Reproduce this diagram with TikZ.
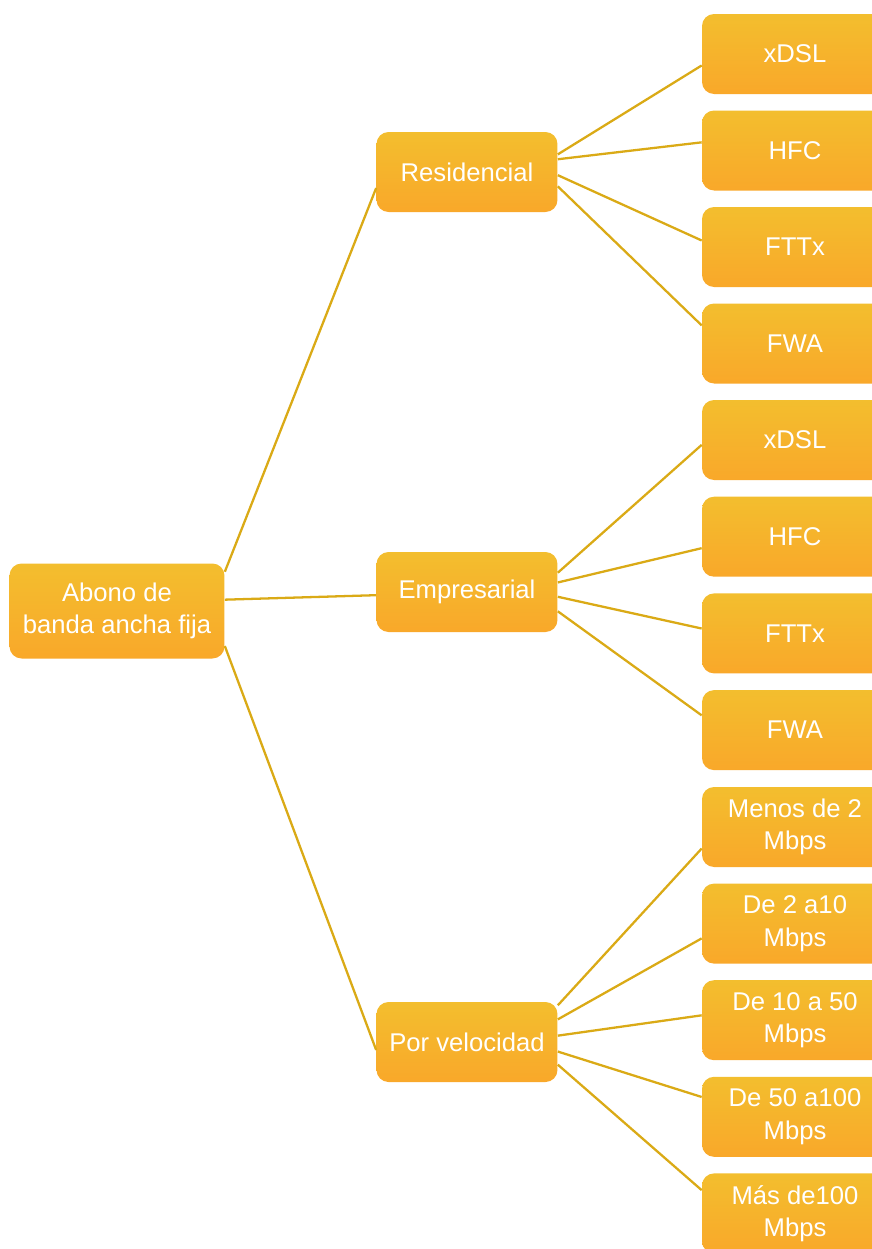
\documentclass[tikz,border=0pt]{standalone}
\usepackage{fontspec}
\setmainfont{Liberation Sans}
\usetikzlibrary{positioning}
\definecolor{boxtop}{RGB}{243,190,46}
\definecolor{boxbot}{RGB}{249,168,42}
\definecolor{linkcol}{RGB}{218,170,22}

\begin{document}
\begin{tikzpicture}[
		x=0.02cm,y=-0.02cm,
		box/.style={
			draw=none,
			rounded corners=0.24cm,
			top color=boxtop,
			bottom color=boxbot,
			text=white,
			align=center,
			inner sep=0pt,
			font=\fontsize{14.6}{18.4}\selectfont
		},
		rootbox/.style={box,minimum width=4.3cm,minimum height=1.9cm},
		midbox/.style={box,minimum width=3.62cm,minimum height=1.6cm},
		leafbox/.style={box,minimum width=3.72cm,minimum height=1.6cm},
		link/.style={draw=linkcol,line width=1.3pt}
		]
		\useasboundingbox (0,0) rectangle (872,1249);
		% root and categories
		\node[rootbox] (root) at (117,611) {Abono de\\banda ancha fija};
		\node[midbox] (res) at (467,172) {Residencial};
		\node[midbox] (emp) at (467,592) {Empresarial};
		\node[midbox] (vel) at (467,1042) {Por velocidad};
		% leaves
		\foreach \t [count=\i] in {xDSL,HFC,FTTx,FWA}
			\node[leafbox] (r\i) at (795,{54+96.5*(\i-1)}) {\t};
		\foreach \t [count=\i] in {xDSL,HFC,FTTx,FWA}
			\node[leafbox] (e\i) at (795,{440+96.7*(\i-1)}) {\t};
		\foreach \t [count=\i] in {{Menos de 2\\Mbps},{De 2 a10\\Mbps},{De 10 a 50\\Mbps},{De 50 a100\\Mbps},{Más de100\\Mbps}}
			\node[leafbox] (v\i) at (795,{827+96.6*(\i-1)}) {\t};
		% root -> categories
		\draw[link] (root.20) -- (res.190);
		\draw[link] (root.6) -- (emp.182);
		\draw[link] (root.342) -- (vel.185);
		% categories -> leaves
		\foreach \a/\b [count=\i] in {11/187,8/175,358/176,351/169}
			\draw[link] (res.\a) -- (r\i.\b);
		\foreach \a/\b [count=\i] in {12/183,6/187,357/177,348/171}
			\draw[link] (emp.\a) -- (e\i.\b);
		\foreach \a/\b [count=\i] in {22/193,14/189,4/177,354/168,346/166}
			\draw[link] (vel.\a) -- (v\i.\b);
	\end{tikzpicture}
\end{document}
